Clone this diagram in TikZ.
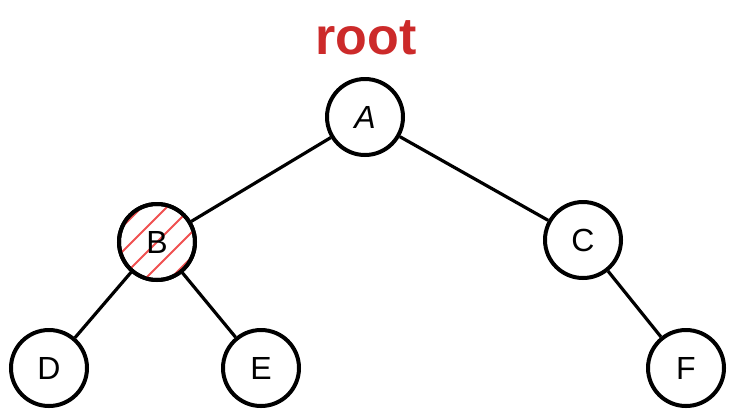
\documentclass[tikz,border=0pt]{standalone}
\usepackage{fontspec}
\setmainfont{Liberation Sans}
\begin{document}
\begin{tikzpicture}[x=1pt,y=-1pt,
  tn/.style={circle,draw=black,line width=4pt,minimum size=76pt,inner sep=0pt,font=\fontsize{32}{34}\selectfont},
  edge/.style={line width=3.2pt,draw=black}]
\useasboundingbox (0,0) rectangle (735,416);
\definecolor{rootred}{RGB}{204,42,42}
\definecolor{hatch}{RGB}{240,80,80}
\node[font=\fontsize{52}{52}\selectfont\bfseries,text=rootred] (rt) at (366,38) {root};
\node[tn] (A) at (365,117) {\textit{A}};
\node[tn] (B) at (157,242) {};
\begin{scope}
  \clip (157,242) circle (37pt);
  \foreach \i in {-125,-100,...,125} {
    \draw[hatch,line width=1.8pt] (157+\i-60,242+60) -- (157+\i+60,242-60);
  }
\end{scope}
\node[tn] at (157,242) {B};
\node[tn] (C) at (583,240) {C};
\node[tn] (D) at (49,368) {D};
\node[tn] (E) at (261,368) {E};
\node[tn] (F) at (686,368) {F};
\draw[edge] (A) -- (B);
\draw[edge] (A) -- (C);
\draw[edge] (B) -- (D);
\draw[edge] (B) -- (E);
\draw[edge] (C) -- (F);
\end{tikzpicture}
\end{document}
